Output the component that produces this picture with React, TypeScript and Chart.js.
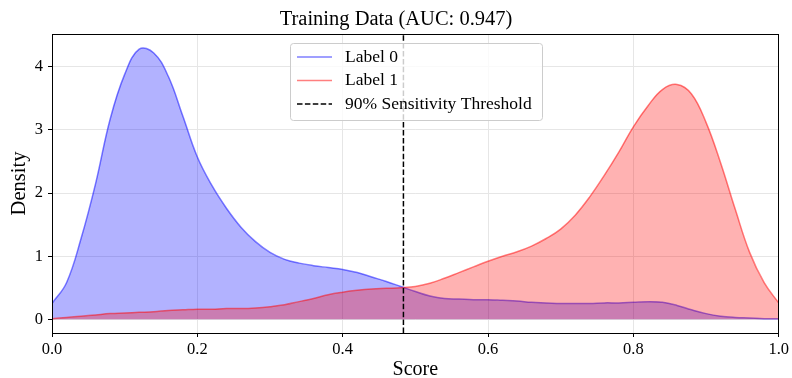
import React, { useEffect, useRef } from 'react';
import { Chart, registerables } from 'chart.js';

Chart.register(...registerables);

const scores = [
  0.0, 0.02, 0.04, 0.06, 0.08, 0.1, 0.12, 0.14, 0.16, 0.18,
  0.2, 0.22, 0.24, 0.26, 0.28, 0.3, 0.32, 0.34, 0.36, 0.38,
  0.4, 0.42, 0.44, 0.46, 0.48, 0.5, 0.52, 0.54, 0.56, 0.58,
  0.6, 0.62, 0.64, 0.66, 0.68, 0.7, 0.72, 0.74, 0.76, 0.78,
  0.8, 0.82, 0.84, 0.86, 0.88, 0.9, 0.92, 0.94, 0.96, 0.98, 1.0,
];

const label0Density = [
  0.25, 0.58, 1.28, 2.15, 3.17, 3.88, 4.28, 4.22, 3.85, 3.22,
  2.57, 2.12, 1.76, 1.46, 1.23, 1.06, 0.95, 0.89, 0.85, 0.82,
  0.79, 0.74, 0.67, 0.6, 0.52, 0.44, 0.37, 0.33, 0.32, 0.31,
  0.31, 0.3, 0.29, 0.27, 0.26, 0.25, 0.25, 0.25, 0.26, 0.26,
  0.27, 0.28, 0.27, 0.22, 0.15, 0.09, 0.05, 0.03, 0.02, 0.01, 0.01,
];

const label1Density = [
  0.01, 0.03, 0.05, 0.07, 0.09, 0.1, 0.11, 0.12, 0.14, 0.15,
  0.16, 0.16, 0.17, 0.17, 0.18, 0.2, 0.23, 0.28, 0.33, 0.39,
  0.43, 0.46, 0.48, 0.49, 0.5, 0.52, 0.57, 0.65, 0.74, 0.83,
  0.92, 1.0, 1.07, 1.16, 1.28, 1.43, 1.65, 1.94, 2.28, 2.65,
  3.05, 3.38, 3.64, 3.72, 3.57, 3.12, 2.48, 1.75, 1.06, 0.58, 0.26,
];

const threshold = 0.4836;
const yMin = -0.217;
const yMax = 4.52;
const xTickStep = 0.2;
const yTickStep = 1;

const titleText = 'Training Data (AUC: 0.947)';
const xTitle = 'Score';
const yTitle = 'Density';
const seriesLabels = ['Label 0', 'Label 1', '90% Sensitivity Threshold'];

const FONT = "'Liberation Serif', 'Times New Roman', serif";

const framePlugin = {
  id: 'frame',
  afterDatasetsDraw(chart: any) {
    const { ctx, chartArea } = chart;
    ctx.save();
    ctx.strokeStyle = '#000';
    ctx.lineWidth = 1;
    ctx.strokeRect(
      Math.round(chartArea.left) + 0.5,
      Math.round(chartArea.top) + 0.5,
      Math.round(chartArea.right - chartArea.left) - 1,
      Math.round(chartArea.bottom - chartArea.top)
    );
    ctx.restore();
  },
};

const legendPlugin = {
  id: 'mplLegend',
  afterDraw(chart: any) {
    const { ctx } = chart;
    const x0 = 290.5, y0 = 43.5, w = 252, h = 77, r = 3;
    ctx.save();
    ctx.beginPath();
    ctx.moveTo(x0 + r, y0);
    ctx.lineTo(x0 + w - r, y0);
    ctx.arcTo(x0 + w, y0, x0 + w, y0 + r, r);
    ctx.lineTo(x0 + w, y0 + h - r);
    ctx.arcTo(x0 + w, y0 + h, x0 + w - r, y0 + h, r);
    ctx.lineTo(x0 + r, y0 + h);
    ctx.arcTo(x0, y0 + h, x0, y0 + h - r, r);
    ctx.lineTo(x0, y0 + r);
    ctx.arcTo(x0, y0, x0 + r, y0, r);
    ctx.closePath();
    ctx.fillStyle = 'rgba(255,255,255,0.8)';
    ctx.fill();
    ctx.strokeStyle = '#cccccc';
    ctx.lineWidth = 1;
    ctx.stroke();

    const ds = chart.data.datasets;
    const rows = [57, 80.5, 104];
    rows.forEach((ry, i) => {
      const d = ds[i];
      ctx.beginPath();
      ctx.strokeStyle = d.borderColor;
      ctx.lineWidth = 1.5;
      ctx.setLineDash(d.borderDash || []);
      ctx.moveTo(297, ry);
      ctx.lineTo(332, ry);
      ctx.stroke();
      ctx.setLineDash([]);
      ctx.fillStyle = '#000';
      ctx.font = `17.5px ${FONT}`;
      ctx.textBaseline = 'middle';
      ctx.textAlign = 'left';
      ctx.fillText(d.label, 345, ry);
    });
    ctx.restore();
  },
};

export default function App() {
  const ref = useRef<HTMLCanvasElement>(null);

  useEffect(() => {
    document.body.style.margin = '0';
    const canvas = ref.current!;
    const tickFont = { family: FONT, size: 16.5 };
    const chart = new Chart(canvas, {
      type: 'line',
      data: {
        datasets: [
          {
            label: seriesLabels[0],
            data: scores.map((x, i) => ({ x, y: label0Density[i] })),
            borderColor: 'rgba(0,0,255,0.5)',
            backgroundColor: 'rgba(0,0,255,0.3)',
            fill: 'origin',
            borderWidth: 1.5,
            pointRadius: 0,
            tension: 0.4,
            order: 2,
          },
          {
            label: seriesLabels[1],
            data: scores.map((x, i) => ({ x, y: label1Density[i] })),
            borderColor: 'rgba(255,0,0,0.5)',
            backgroundColor: 'rgba(255,0,0,0.3)',
            fill: 'origin',
            borderWidth: 1.5,
            pointRadius: 0,
            tension: 0.4,
            order: 1,
          },
          {
            label: seriesLabels[2],
            data: [
              { x: threshold, y: yMin },
              { x: threshold, y: yMax },
            ],
            borderColor: '#000',
            borderDash: [5.5, 2.4],
            borderWidth: 1.5,
            pointRadius: 0,
            fill: false,
            order: 0,
          },
        ],
      },
      options: {
        responsive: false,
        animation: false,
        layout: { padding: { left: 0, right: 0, top: 0, bottom: 0 } },
        plugins: {
          legend: { display: false },
          tooltip: { enabled: false },
          title: {
            display: true,
            text: titleText,
            color: '#000',
            font: { family: FONT, size: 20.5, weight: 'normal', lineHeight: '24px' },
            padding: { top: 7.5, bottom: 2.5 },
          },
        },
        scales: {
          x: {
            type: 'linear',
            min: 0,
            max: 1,
            ticks: {
              stepSize: xTickStep,
              callback: (v: any) => Number(v).toFixed(1),
              font: tickFont,
              color: '#000',
              padding: 3,
              maxRotation: 0,
              includeBounds: false,
            },
            grid: { color: '#e6e6e6', tickColor: '#000', tickLength: 4, lineWidth: 1 },
            border: { color: '#000' },
            title: {
              display: true,
              text: xTitle,
              font: { family: FONT, size: 20, lineHeight: 0.8 },
              color: '#000',
              padding: { top: 0, bottom: 0 },
            },
            afterFit: (s: any) => {
              s.height = 45;
            },
          },
          y: {
            type: 'linear',
            min: yMin,
            max: yMax,
            ticks: {
              stepSize: yTickStep,
              callback: (v: any) => String(Math.round(Number(v))),
              font: tickFont,
              color: '#000',
              padding: 5,
              includeBounds: false,
            },
            grid: { color: '#e6e6e6', tickColor: '#000', tickLength: 4, lineWidth: 1 },
            border: { color: '#000' },
            title: {
              display: true,
              text: yTitle,
              font: { family: FONT, size: 20.5 },
              color: '#000',
              padding: { top: 7, bottom: 0 },
            },
            afterFit: (s: any) => {
              s.width = 52;
            },
          },
          yRight: {
            type: 'linear',
            position: 'right',
            display: true,
            ticks: { display: false },
            grid: { display: false },
            border: { display: false },
            afterFit: (s: any) => {
              s.width = 12;
            },
          },
        },
      },
      plugins: [framePlugin, legendPlugin],
    } as any);
    return () => chart.destroy();
  }, []);

  return (
    <div style={{ position: 'fixed', left: 0, top: 0, width: 792, height: 378, background: '#fff' }}>
      <canvas ref={ref} width={792} height={378} style={{ width: 792, height: 378, display: 'block' }} />
    </div>
  );
}
